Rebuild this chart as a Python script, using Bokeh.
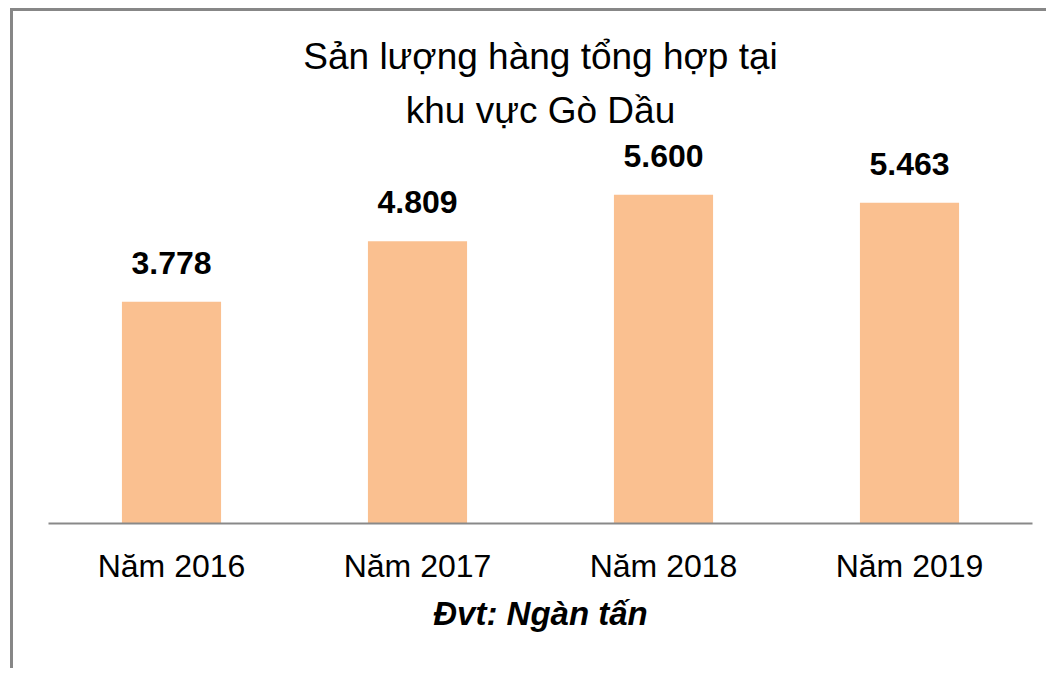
from bokeh.plotting import figure
from bokeh.models import FactorRange, Range1d, ColumnDataSource, Title
from bokeh.core.properties import value
from bokeh.embed import file_html
from bokeh.resources import INLINE

categories = ["Năm 2016", "Năm 2017", "Năm 2018", "Năm 2019"]
values = [3778, 4809, 5600, 5463]
labels = ["3.778", "4.809", "5.600", "5.463"]
title_lines = ["Sản lượng hàng tổng hợp tại", "khu vực Gò Dầu"]
unit_text = "Đvt: Ngàn tấn"

FONT = "Liberation Sans"

src = ColumnDataSource(dict(cat=categories, val=values, lab=labels))

p = figure(
    width=1036, height=660,
    x_range=FactorRange(*categories, range_padding=0),
    y_range=Range1d(0, 6525),
    output_backend="svg", toolbar_location=None, tools="",
    title=None,
    min_border_left=35, min_border_right=17,
    min_border_top=129, min_border_bottom=148,
)
p.styles = {"border-left": "3px solid #878787", "border-top": "3px solid #878787",
            "margin-left": "10px", "margin-top": "8px"}
p.outline_line_color = None
p.background_fill_color = "white"
p.border_fill_color = "white"
p.xgrid.visible = False
p.ygrid.visible = False
p.yaxis.visible = False

for i, line in enumerate(reversed(title_lines)):
    t = Title(text=line, align="center", text_font=FONT, text_font_size="37px",
              text_font_style="normal", text_color="#000000",
              standoff=20 if i == 0 else 1)
    p.add_layout(t, "above")

p.vbar(x="cat", top="val", width=0.403, source=src, fill_color="#FAC090", line_color=None)
p.text(x="cat", y="val", text="lab", source=src, text_align="center", text_baseline="alphabetic",
       y_offset=-39, text_font=value(FONT), text_font_size="32px", text_font_style="bold",
       text_color="#000000")

ax = p.xaxis[0]
ax.axis_line_color = "#898989"
ax.axis_line_width = 2
ax.major_tick_line_color = None
ax.minor_tick_line_color = None
ax.major_label_text_font = FONT
ax.major_label_text_font_size = "32px"
ax.major_label_text_color = "#000000"
ax.major_label_standoff = 18
ax.axis_label = unit_text
ax.axis_label_text_font = FONT
ax.axis_label_text_font_size = "33px"
ax.axis_label_text_font_style = "bold italic"
ax.axis_label_text_color = "#000000"
ax.axis_label_standoff = 8

open("out.html", "w").write(file_html(p, INLINE))
